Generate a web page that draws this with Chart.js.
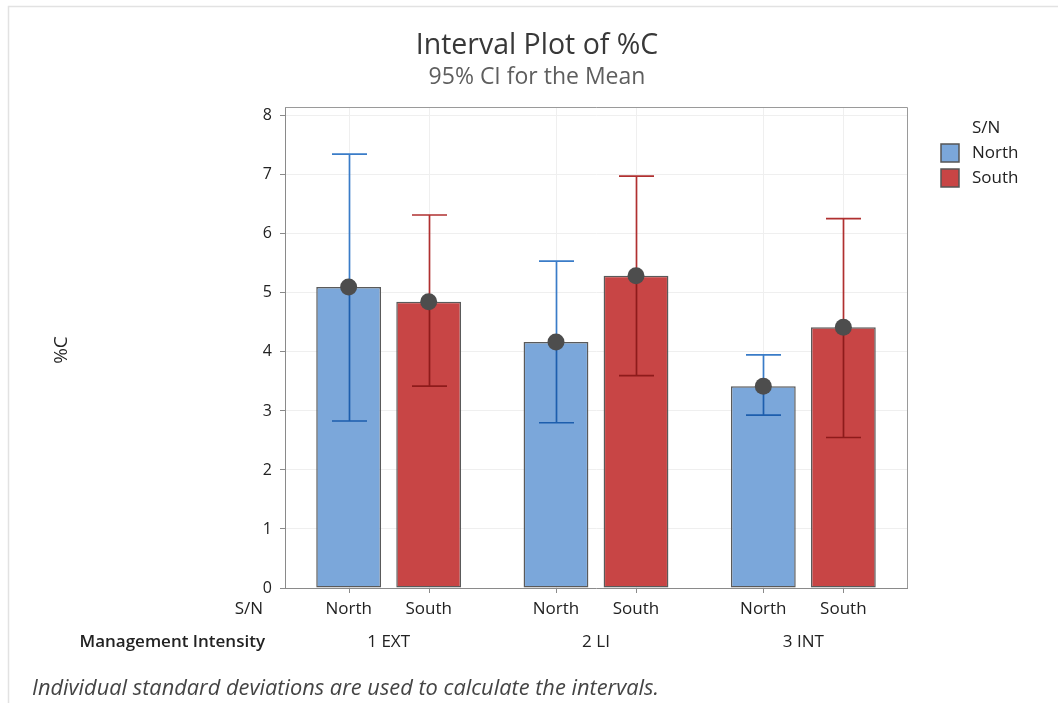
<!DOCTYPE html>
<html><head><meta charset="utf-8">
<script src="https://cdn.jsdelivr.net/npm/chart.js@4"></script>
<style>html,body{margin:0;padding:0;background:#fff}#wrap{position:relative;width:1058px;height:703px}</style>
</head><body><div id="wrap"><canvas id="c" width="1058" height="703"></canvas></div>
<script>
// ---- data ----
const groups = ['1 EXT', '2 LI', '3 INT'];
const seriesNames = ['North', 'South'];
const northMean = [5.10, 4.17, 3.42];
const northLower = [2.83, 2.80, 2.93];
const northUpper = [7.35, 5.54, 3.95];
const southMean = [4.85, 5.29, 4.42];
const southLower = [3.42, 3.60, 2.55];
const southUpper = [6.32, 6.98, 6.26];
const yTicks = [0, 1, 2, 3, 4, 5, 6, 7, 8];

const FONT = '"Open Sans", "Noto Sans", sans-serif';
const fills = ['#7ba7da', '#c84545'];
const whiskerLight = ['#3a7cc8', '#b03030'];
const whiskerDark = ['#1d5ead', '#8e1b1b'];
const lowers = [northLower, southLower];
const uppers = [northUpper, southUpper];

const custom = {
  id: 'custom',
  beforeDatasetsDraw(chart) {
    const { ctx, chartArea: a } = chart;
    ctx.save();
    ctx.strokeStyle = '#efefef';
    ctx.lineWidth = 1;
    chart.data.datasets.forEach((ds, i) => {
      chart.getDatasetMeta(i).data.forEach(el => {
        const x = Math.round(el.x) + 0.5;
        ctx.beginPath(); ctx.moveTo(x, a.top); ctx.lineTo(x, a.bottom); ctx.stroke();
      });
    });
    ctx.restore();
  },
  afterDatasetsDraw(chart) {
    const { ctx, scales: { y } } = chart;
    ctx.save();
    const cap = 17.5;
    chart.data.datasets.forEach((ds, i) => {
      chart.getDatasetMeta(i).data.forEach((el, j) => {
        const x = Math.round(el.x) + 0.5;
        const yU = y.getPixelForValue(uppers[i][j]);
        const yL = y.getPixelForValue(lowers[i][j]);
        const yM = el.y;
        ctx.lineWidth = 1.7;
        ctx.strokeStyle = whiskerLight[i];
        ctx.beginPath();
        ctx.moveTo(x, yU); ctx.lineTo(x, yM);
        ctx.moveTo(x - cap, yU); ctx.lineTo(x + cap, yU);
        ctx.stroke();
        ctx.strokeStyle = whiskerDark[i];
        ctx.beginPath();
        ctx.moveTo(x, yM); ctx.lineTo(x, yL);
        ctx.moveTo(x - cap, yL); ctx.lineTo(x + cap, yL);
        ctx.stroke();
      });
    });
    chart.data.datasets.forEach((ds, i) => {
      chart.getDatasetMeta(i).data.forEach(el => {
        ctx.fillStyle = '#4d4d4d';
        ctx.beginPath(); ctx.arc(el.x, el.y, 8.5, 0, Math.PI * 2); ctx.fill();
      });
    });
    ctx.restore();
  },
  afterDraw(chart) {
    const { ctx, chartArea: a } = chart;
    ctx.save();
    // outer frame
    ctx.strokeStyle = '#e2e2e2'; ctx.lineWidth = 1.5;
    ctx.beginPath(); ctx.moveTo(8.5, 703); ctx.lineTo(8.5, 6.5); ctx.lineTo(1058, 6.5); ctx.stroke();
    // plot frame top/right
    ctx.strokeStyle = '#9a9a9a'; ctx.lineWidth = 1;
    ctx.beginPath();
    ctx.moveTo(a.left, a.top + 0.5); ctx.lineTo(a.right + 0.5, a.top + 0.5); ctx.lineTo(a.right + 0.5, a.bottom);
    ctx.stroke();
    // bottom ticks + S/N labels
    ctx.strokeStyle = '#8a8a8a';
    ctx.fillStyle = '#222';
    ctx.font = '17px ' + FONT;
    ctx.textAlign = 'center'; ctx.textBaseline = 'middle';
    chart.data.datasets.forEach((ds, i) => {
      chart.getDatasetMeta(i).data.forEach(el => {
        const x = Math.round(el.x) + 0.5;
        ctx.beginPath(); ctx.moveTo(x, a.bottom); ctx.lineTo(x, a.bottom + 5); ctx.stroke();
        ctx.fillText(seriesNames[i], el.x, 609);
      });
    });
    const xs = chart.scales.x;
    groups.forEach((g, k) => ctx.fillText(g, xs.getPixelForValue(k), 642));
    ctx.textAlign = 'right';
    ctx.fillText('S/N', 263, 609);
    ctx.font = '600 17px ' + FONT;
    ctx.fillText('Management Intensity', 265, 642);
    // titles
    ctx.textAlign = 'center'; ctx.textBaseline = 'alphabetic';
    ctx.fillStyle = '#383838';
    ctx.font = '28.5px ' + FONT;
    ctx.fillText('Interval Plot of %C', 537, 54);
    ctx.fillStyle = '#5e5e5e';
    ctx.font = '23px ' + FONT;
    ctx.fillText('95% CI for the Mean', 537, 84);
    // y title
    ctx.save();
    ctx.translate(62, 350); ctx.rotate(-Math.PI / 2);
    ctx.fillStyle = '#222'; ctx.font = '19px ' + FONT; ctx.textBaseline = 'middle';
    ctx.fillText('%C', 0, 0);
    ctx.restore();
    // legend
    ctx.textAlign = 'left'; ctx.textBaseline = 'middle';
    ctx.fillStyle = '#222'; ctx.font = '17px ' + FONT;
    ctx.fillText('S/N', 972, 128);
    seriesNames.forEach((n, i) => {
      const yy = 144 + i * 25;
      ctx.fillStyle = fills[i]; ctx.fillRect(941, yy, 18, 18);
      ctx.strokeStyle = '#555'; ctx.lineWidth = 1.5; ctx.strokeRect(941, yy, 18, 18);
      ctx.fillStyle = '#222';
      ctx.fillText(n, 972, yy + 9);
    });
    // footer
    ctx.fillStyle = '#444';
    ctx.font = 'italic 21.8px ' + FONT;
    ctx.textBaseline = 'alphabetic';
    ctx.fillText('Individual standard deviations are used to calculate the intervals.', 32, 695);
    ctx.restore();
  }
};

new Chart(document.getElementById('c'), {
  type: 'bar',
  data: {
    labels: groups,
    datasets: [
      { label: seriesNames[0], data: northMean, backgroundColor: fills[0], borderColor: '#5a5a5a', borderWidth: 1.5, borderSkipped: false },
      { label: seriesNames[1], data: southMean, backgroundColor: fills[1], borderColor: '#5a5a5a', borderWidth: 1.5, borderSkipped: false }
    ]
  },
  options: {
    responsive: false,
    animation: false,
    categoryPercentage: 0.772,
    barPercentage: 0.81,
    layout: { padding: { left: 240, top: 107, right: 151, bottom: 115 } },
    plugins: { legend: { display: false }, tooltip: { enabled: false }, title: { display: false } },
    scales: {
      x: {
        type: 'category',
        grid: { display: false },
        border: { display: true, color: '#8a8a8a', width: 1 },
        ticks: { display: false },
        afterFit(s) { s.height = 0; }
      },
      y: {
        min: 0, max: 8.15,
        afterBuildTicks(s) { s.ticks = yTicks.map(v => ({ value: v })); },
        afterFit(s) { s.width = 45; },
        grid: { color: '#efefef', tickColor: '#8a8a8a', tickLength: 5, drawTicks: true },
        border: { display: true, color: '#8a8a8a', width: 1 },
        ticks: { padding: 8, color: '#222', font: { family: FONT, size: 16 } }
      }
    }
  },
  plugins: [custom]
});
</script></body></html>
